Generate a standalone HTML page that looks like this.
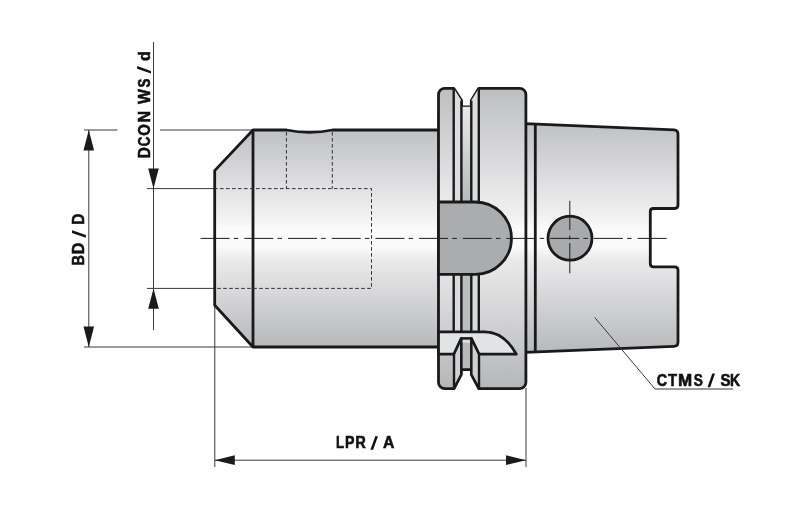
<!DOCTYPE html>
<html><head><meta charset="utf-8">
<style>
html,body{margin:0;padding:0;background:#fff;width:800px;height:510px;overflow:hidden}
svg{display:block;will-change:transform}
.lbl text{font-family:"Liberation Sans",sans-serif;font-weight:bold;font-size:17px;fill:#111;stroke:#111;stroke-width:0.6}
</style></head>
<body>
<svg width="800" height="510" viewBox="0 0 800 510">
<defs>
<linearGradient id="gb" gradientUnits="userSpaceOnUse" x1="0" y1="130" x2="0" y2="347">
<stop offset="0" stop-color="#bfc0c2"/>
<stop offset="0.392" stop-color="#f0f0f1"/>
<stop offset="0.461" stop-color="#fbfbfb"/>
<stop offset="0.539" stop-color="#fafafa"/>
<stop offset="0.599" stop-color="#eaeaeb"/>
<stop offset="1" stop-color="#b7b8ba"/>
</linearGradient>
<linearGradient id="gf" gradientUnits="userSpaceOnUse" x1="0" y1="88" x2="0" y2="389">
<stop offset="0" stop-color="#bdbec0"/>
<stop offset="0.422" stop-color="#f0f0f1"/>
<stop offset="0.472" stop-color="#fbfbfb"/>
<stop offset="0.528" stop-color="#fafafa"/>
<stop offset="0.571" stop-color="#eaeaeb"/>
<stop offset="1" stop-color="#b5b6b8"/>
</linearGradient>
<linearGradient id="gt" gradientUnits="userSpaceOnUse" x1="0" y1="124" x2="0" y2="352">
<stop offset="0" stop-color="#c0c1c3"/>
<stop offset="0.399" stop-color="#f0f0f1"/>
<stop offset="0.465" stop-color="#fbfbfb"/>
<stop offset="0.539" stop-color="#fafafa"/>
<stop offset="0.596" stop-color="#eaeaeb"/>
<stop offset="1" stop-color="#b8b9bb"/>
</linearGradient>
</defs>

<!-- dimension lines (thin) -->
<g stroke="#3a3a3a" stroke-width="1" fill="none">
  <!-- BD / D -->
  <line x1="88.8" y1="130" x2="88.8" y2="347"/>
  <line x1="84" y1="130" x2="117.5" y2="130"/>
  <line x1="160" y1="130" x2="253" y2="130"/>
  <line x1="84" y1="347" x2="253" y2="347"/>
  <!-- DCON -->
  <line x1="153.5" y1="42" x2="153.5" y2="330"/>
  <line x1="147" y1="188.6" x2="215" y2="188.6"/>
  <line x1="147" y1="288.4" x2="215" y2="288.4"/>
  <!-- LPR -->
  <line x1="214.8" y1="305" x2="214.8" y2="467"/>
  <line x1="526" y1="388" x2="526" y2="467"/>
  <line x1="214.8" y1="460.2" x2="526" y2="460.2"/>
</g>
<g fill="#1a1a1a" stroke="none">
  <polygon points="88.8,130 83.5,150.5 94.1,150.5"/>
  <polygon points="88.8,347 83.5,326.5 94.1,326.5"/>
  <polygon points="153.5,188.6 148.2,168.6 158.8,168.6"/>
  <polygon points="153.5,288.4 148.2,308.8 158.8,308.8"/>
  <polygon points="214.8,460.2 234.8,455.3 234.8,465.1"/>
  <polygon points="526,460.2 506,455.3 506,465.1"/>
</g>

<!-- shank body -->
<path d="M253,130 H286.5 Q309.5,134.5 332.5,130 H439 V347 H253 L214.7,305.2 V170.6 Z" fill="url(#gb)" stroke="#1a1a1a" stroke-width="2.8" stroke-linejoin="round"/>
<line x1="253" y1="130" x2="253" y2="347" stroke="#1a1a1a" stroke-width="2.8"/>

<!-- hidden lines -->
<g stroke="#333" stroke-width="1" fill="none" stroke-dasharray="3.6 2.4">
  <path d="M215,188.6 H371.5 V288.4 H215" stroke-dashoffset="1"/>
  <line x1="286.4" y1="132" x2="286.4" y2="188.6"/>
  <line x1="332.3" y1="132" x2="332.3" y2="188.6"/>
</g>

<!-- taper -->
<path d="M525,123.7 L674,129.8 Q678,130 678,134 V205 Q678,208.5 674.5,208.5 H653.5 Q650.3,208.5 650.3,211.5 V263.5 Q650.3,266.8 653.5,266.8 H674.5 Q678,266.8 678,270 V342.3 Q678,346.2 674,346.3 L525,352.3 Z" fill="url(#gt)" stroke="#1a1a1a" stroke-width="2.8" stroke-linejoin="round"/>
<line x1="535.3" y1="124" x2="535.3" y2="352" stroke="#1a1a1a" stroke-width="2.8"/>

<!-- flange -->
<path d="M438.5,94.5 A6.2,6.2 0 0 1 444.7,88.3 H453.7 L461.6,100.6 V106.8 H471.3 V100.6 L478.8,88.3 H519.7 A6.2,6.2 0 0 1 525.9,94.5 V382.4 A6.2,6.2 0 0 1 519.7,388.6 H478.8 L471.4,374.5 V369.5 H461.2 V374.5 L454,388.6 H444.7 A6.2,6.2 0 0 1 438.5,382.4 Z" fill="url(#gf)" stroke="#1a1a1a" stroke-width="2.8" stroke-linejoin="round"/>
<linearGradient id="gg1" gradientUnits="userSpaceOnUse" x1="0" y1="107" x2="0" y2="205">
<stop offset="0" stop-color="#e8e8e9"/><stop offset="1" stop-color="#b6b7b9"/>
</linearGradient>
<g stroke="none">
  <polygon points="453.7,88.3 461.4,100.6 461.4,202 453.7,202" fill="#dcddde"/>
  <polygon points="478.8,88.3 471.3,100.6 471.3,202 478.8,202" fill="#dcddde"/>
  <rect x="461.4" y="106.8" width="9.9" height="96" fill="url(#gg1)"/>
  <rect x="453.7" y="274" width="7.7" height="58" fill="#dadbdc"/>
  <rect x="471.3" y="274" width="7.5" height="58" fill="#dadbdc"/>
  <rect x="461.4" y="274" width="9.9" height="58" fill="#bcbdbf"/>
</g>
<g stroke="#1a1a1a" stroke-width="2.4" fill="none">
  <line x1="453.7" y1="88.3" x2="453.7" y2="202"/>
  <line x1="461.4" y1="100.6" x2="461.4" y2="202"/>
  <line x1="471.3" y1="100.6" x2="471.3" y2="202"/>
  <line x1="478.8" y1="88.3" x2="478.8" y2="202"/>
  <line x1="453.7" y1="274" x2="453.7" y2="332"/>
  <line x1="461.4" y1="274" x2="461.4" y2="332"/>
  <line x1="471.3" y1="274" x2="471.3" y2="332"/>
  <line x1="478.8" y1="274" x2="478.8" y2="332"/>
</g>
<!-- D key -->
<path d="M438.5,202 H475.3 A36.2,36.2 0 0 1 475.3,274.4 H438.5 Z" fill="#abacae" stroke="#1a1a1a" stroke-width="2.8"/>
<!-- bottom key -->
<path d="M438.5,331.9 H484.5 C497,332 508,339 516.3,354.2 H479 L471.4,338.6 H461.2 L454,354.2 H438.5 Z" fill="#e2e3e4" stroke="#1a1a1a" stroke-width="2.8" stroke-linejoin="round"/>
<path d="M461.2,338.6 H471.4 V369.5 H461.2 Z" fill="#b8b9bb" stroke="#1a1a1a" stroke-width="2.4"/>
<rect x="462.4" y="339.8" width="7.8" height="3" fill="#dcdddf"/>
<path d="M454,354.2 L461.2,338.6 V374.5 L454,388.6 Z" fill="#d0d1d3" stroke="#1a1a1a" stroke-width="2.4" stroke-linejoin="round"/>
<path d="M479,354.2 L471.4,338.6 V374.5 L479,388.6 Z" fill="#d0d1d3" stroke="#1a1a1a" stroke-width="2.4" stroke-linejoin="round"/>

<!-- circle -->
<circle cx="570" cy="238.2" r="22" fill="#a9aaac" stroke="#1a1a1a" stroke-width="2.8"/>

<!-- centerlines -->
<g stroke="#1e1e1e" stroke-width="1" fill="none">
  <line x1="200.6" y1="238.4" x2="667.5" y2="238.4" stroke-dasharray="29 4.2 4.5 6"/>
  <line x1="569.8" y1="200.8" x2="569.8" y2="273.3" stroke-dasharray="29.2 5.5 4 3.5 31"/>
</g>

<polyline points="594.7,317.4 655,389 733,389" stroke="#3a3a3a" stroke-width="1" fill="none"/>
<!-- texts -->
<g class="lbl" transform="translate(0,385.5)"><text transform="translate(656.65,0) scale(0.840,1)">C</text><text transform="translate(667.97,0) scale(0.872,1)">T</text><text transform="translate(678.07,0) scale(1.000,1)">M</text><text transform="translate(693.64,0) scale(0.804,1)">S</text><text transform="translate(720.54,0) scale(0.885,1)">S</text><text transform="translate(730.09,0) scale(0.823,1)">K</text></g>
<g class="lbl" transform="translate(0,448.4)"><text transform="translate(336.08,0) scale(0.786,1)">L</text><text transform="translate(344.93,0) scale(0.835,1)">P</text><text transform="translate(355.17,0) scale(0.861,1)">R</text><text transform="translate(383.05,0) scale(0.927,1)">A</text></g>
<g class="lbl" transform="translate(150.0,160) rotate(-90)"><text transform="translate(1.65,0) scale(0.905,1)">D</text><text transform="translate(13.79,0) scale(0.778,1)">C</text><text transform="translate(24.35,0) scale(0.879,1)">O</text><text transform="translate(37.62,0) scale(0.947,1)">N</text><text transform="translate(55.89,0) scale(0.932,1)">W</text><text transform="translate(72.39,0) scale(0.786,1)">S</text><text transform="translate(98.97,0) scale(0.945,1)">d</text></g>
<g class="lbl" transform="translate(84.2,268) rotate(-90) scale(1,0.95)"><text transform="translate(2.45,0) scale(0.850,1)">B</text><text transform="translate(13.63,0) scale(0.948,1)">D</text><text transform="translate(43.25,0) scale(0.905,1)">D</text></g>
<g fill="#111"><polygon points="707.50,387.30 710.20,387.30 715.00,373.50 712.30,373.50"/><polygon points="370.40,449.80 373.10,449.80 378.00,436.20 375.30,436.20"/><polygon points="151.00,73.60 151.00,70.90 137.20,66.00 137.20,68.70"/><polygon points="85.90,237.80 85.90,235.10 72.00,230.30 72.00,233.00"/></g>
</svg>
</body></html>
